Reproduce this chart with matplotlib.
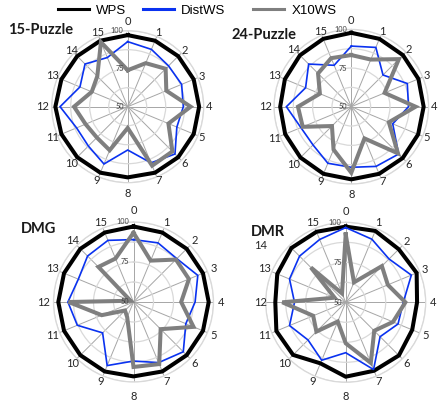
import numpy as np
import matplotlib
matplotlib.use('Agg')
import matplotlib.pyplot as plt
from matplotlib.lines import Line2D

# ---------------- data ----------------
spokes = [str(i) for i in range(16)]
series_names = ['WPS', 'DistWS', 'X10WS']
panel_titles = ['15-Puzzle', '24-Puzzle', 'DMG', 'DMR']
r_labels = [50, 75, 100]
r_grid = [62.5, 75, 87.5, 100]

wps_15 = [97.1, 97.0, 97.0, 97.0, 97.0, 97.0, 97.0, 97.0, 96.5, 97.0, 97.0, 97.2, 97.6, 97.2, 97.0, 97.0]
dist_15 = [92.8, 90.8, 88.0, 88.4, 86.6, 85.0, 94.0, 90.0, 78.5, 90.8, 86.6, 86.4, 94.5, 84.0, 89.7, 85.0]
x10_15 = [74.0, 81.0, 85.3, 77.5, 91.4, 79.0, 91.6, 92.0, 64.0, 81.0, 78.7, 80.0, 85.3, 75.6, 78.3, 96.0]

wps_24 = [97.8, 97.5, 97.2, 97.0, 96.8, 96.8, 97.0, 97.0, 97.0, 97.0, 96.5, 96.3, 96.0, 96.5, 97.0, 97.5]
dist_24 = [89.2, 91.5, 79.0, 89.2, 87.0, 79.0, 93.3, 91.8, 89.2, 89.6, 85.0, 85.3, 92.0, 82.0, 89.0, 79.0]
x10_24 = [83.4, 83.0, 93.5, 73.3, 91.6, 76.3, 92.7, 72.2, 92.7, 80.0, 67.7, 84.0, 84.5, 72.0, 80.4, 84.0]

wps_dmg = [97.2, 97.0, 97.0, 97.0, 97.0, 97.0, 97.0, 97.0, 96.5, 97.0, 97.0, 97.0, 97.0, 97.0, 97.0, 97.0]
dist_dmg = [89.0, 90.0, 88.3, 93.5, 88.5, 85.4, 94.0, 91.0, 86.9, 93.0, 77.3, 88.0, 91.0, 87.3, 90.6, 91.7]
x10_dmg = [93.3, 78.0, 87.5, 87.5, 79.8, 90.6, 74.0, 92.0, 90.6, 60.3, 57.5, 71.5, 90.6, 52.0, 81.0, 79.4]

wps_dmr = [97.3, 98.3, 96.9, 98.0, 94.6, 95.0, 97.0, 96.3, 96.5, 91.3, 96.5, 96.9, 94.0, 96.3, 98.0, 97.7]
dist_dmr = [96.7, 92.7, 88.3, 94.4, 86.0, 85.4, 80.4, 95.5, 81.5, 89.2, 83.3, 88.0, 82.0, 88.0, 90.8, 92.5]
x10_dmr = [92.5, 63.5, 82.0, 78.5, 87.3, 82.0, 75.2, 91.0, 75.6, 63.0, 75.9, 72.0, 89.6, 57.5, 80.8, 56.0]

panel_series = [
    (wps_15, dist_15, x10_15),
    (wps_24, dist_24, x10_24),
    (wps_dmg, dist_dmg, x10_dmg),
    (wps_dmr, dist_dmr, x10_dmr),
]

# ---------------- layout (pixels) ----------------
W, H = 438, 404
centers = [(127.7, 106.7, 76.0), (351.3, 106.7, 77.3), (133.5, 302.0, 80.0), (345.7, 302.3, 80.0)]
title_pos = [(8, 30), (231, 35), (21, 229), (251, 232)]
# spoke-label gaps: (diagonal, top, bottom, right, left)
label_gaps = [(4.0, 9.0, 10.5, 5.5, 9.0), (4.0, 9.0, 10.5, 5.5, 9.0),
              (6.5, 11.5, 14.5, 8.0, 10.0), (6.0, 11.0, 14.0, 7.0, 5.0)]
# extra manual nudges (panel, spoke) -> (dx, dy) pixels, y down
label_nudge = {(3, 14): (-24.0, 4.0)}

colors = ['#000000', '#0a32f0', '#7f7f7f']
widths = [2.9, 1.2, 2.9]

plt.rcParams['font.family'] = ['Lato', 'DejaVu Sans']

fig = plt.figure(figsize=(W / 100, H / 100), dpi=100)

n = len(spokes)
theta = np.arange(n) * 2 * np.pi / n
theta_c = np.append(theta, theta[0])

for p, ((cx, cy, R), series, title, (tx, ty), gaps) in enumerate(
        zip(centers, panel_series, panel_titles, title_pos, label_gaps)):
    ax = fig.add_axes([(cx - R) / W, (H - cy - R) / H, 2 * R / W, 2 * R / H], projection='polar')
    ax.set_theta_zero_location('N')
    ax.set_theta_direction(-1)
    ax.set_ylim(50, 100)
    ax.set_xticks(theta)
    ax.set_xticklabels([])
    ax.set_yticks(r_grid)
    ax.set_yticklabels([])
    ax.xaxis.grid(True, color='#a6a6a6', lw=0.7)
    ax.yaxis.grid(True, color='#d9d9d9', lw=0.9)
    ax.spines['polar'].set_color('#d9d9d9')
    ax.spines['polar'].set_linewidth(0.9)
    ax.set_facecolor('none')
    ax.tick_params(length=0)

    for vals, c, lw in zip(series, colors, widths):
        v = np.append(vals, vals[0])
        ax.plot(theta_c, v, color=c, lw=lw, solid_joinstyle='miter', clip_on=False)

    g_d, g_t, g_b, g_r, g_l = gaps
    for i, (t, lab) in enumerate(zip(theta, spokes)):
        s, co = np.sin(t), np.cos(t)
        if i == 0:
            d = g_t
        elif i == 8:
            d = g_b
        elif i == 4:
            d = g_r
        elif i == 12:
            d = g_l
        else:
            d = g_d + (1.5 if (len(lab) == 2 and i in (11, 13)) else 0.0)
        ox, oy = s * d, co * d
        nx, ny = label_nudge.get((p, i), (0.0, 0.0))
        ax.annotate(lab, xy=(t, 100), xytext=(ox + nx, oy - ny), textcoords='offset pixels',
                    ha='center', va='center', fontsize=8, color='#262626',
                    annotation_clip=False)
    for rv in r_labels:
        ax.annotate(str(rv), xy=(0, rv), xytext=(-4, 0), textcoords='offset pixels',
                    ha='right', va='center', fontsize=5.3, color='#404040',
                    annotation_clip=False)

    fig.text(tx / W, 1 - ty / H, title, ha='left', va='center', fontsize=10.5,
             fontweight='bold', color='#1a1a1a')

# legend: one entry per series, placed at the reference positions
legend_x = [58, 143, 253]
for name, c, x0 in zip(series_names, colors, legend_x):
    h = Line2D([], [], color=c, lw=2.2)
    fig.legend([h], [name], loc='center left', bbox_to_anchor=(x0 / W, 1 - 10.5 / H),
               frameon=False, handlelength=2.35, handletextpad=0.55,
               prop={'family': ['Liberation Sans'], 'size': 9.5},
               borderaxespad=0, borderpad=0)

fig.savefig('out.png', dpi=100)
